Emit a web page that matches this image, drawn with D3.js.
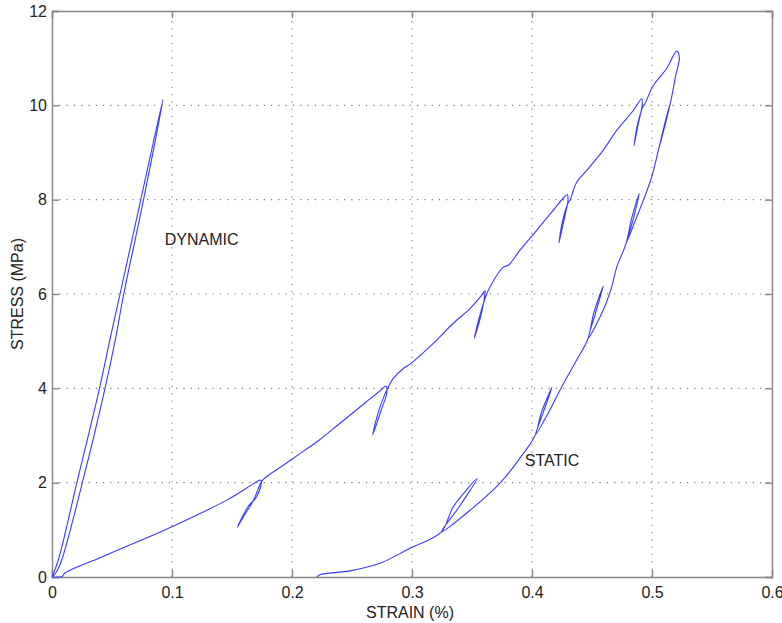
<!DOCTYPE html>
<html>
<head>
<meta charset="utf-8">
<script src="https://cdn.jsdelivr.net/npm/d3@7"></script>
<style>
  html, body { margin: 0; padding: 0; background: #fff; }
  svg { display: block; }
  text { font-family: "Liberation Sans", Arial, Helvetica, sans-serif; fill: #222; }
</style>
</head>
<body>
<svg id="chart" width="782" height="623"></svg>
<script>
// ---- data ----
const xTicks = [0, 0.1, 0.2, 0.3, 0.4, 0.5, 0.6];
const xTickLabels = ["0", "0.1", "0.2", "0.3", "0.4", "0.5", "0.6"];
const yTicks = [0, 2, 4, 6, 8, 10, 12];
const yTickLabels = ["0", "2", "4", "6", "8", "10", "12"];

const dynamicStrain = [0, 0.0035, 0.0081, 0.0253, 0.0442, 0.0527, 0.0598, 0.0763, 0.0925,
                       0.0740, 0.0567, 0.0482, 0.0394, 0.0206, 0.00525, 0];
const dynamicStress = [0, 0.10, 0.36, 2.0, 4.0, 5.02, 6.0, 8.0, 10.13,
                       8.0, 6.0, 5.02, 3.98, 1.985, 0.36, 0];

const staticStrain = [
  0, 0.0083, 0.011, 0.04, 0.0761, 0.1, 0.1456, 0.168, 0.1733,
  0.1745, 0.1705, 0.1636, 0.1544, 0.1600, 0.1678, 0.1740, 0.1765,
  0.1997, 0.2108, 0.222, 0.24, 0.2608, 0.274, 0.2783,
  0.2790, 0.2745, 0.2672, 0.2720, 0.2770, 0.2803,
  0.2844, 0.2928, 0.2992, 0.3164, 0.3344, 0.3483, 0.3580, 0.3608,
  0.3605, 0.3570, 0.3519, 0.3560, 0.3615, 0.3636,
  0.3761, 0.3803, 0.39, 0.4039, 0.4178, 0.4260, 0.4294,
  0.4300, 0.4265, 0.4225, 0.4255, 0.4305, 0.4317,
  0.4372, 0.4456, 0.4594, 0.4706, 0.4844, 0.4914,
  0.4918, 0.4885, 0.4850, 0.4880, 0.4930, 0.4942,
  0.5011, 0.5122, 0.5206, 0.5228,
  0.5195, 0.5161, 0.5111, 0.5061,
  0.5110, 0.5158, 0.5100, 0.5058,
  0.4997, 0.4930, 0.4860, 0.4789,
  0.4845, 0.4894, 0.4830, 0.4785,
  0.4706, 0.4664, 0.4594, 0.4469,
  0.4530, 0.4594, 0.4515, 0.4465,
  0.4372, 0.4233, 0.4140, 0.4030,
  0.4095, 0.4167, 0.4080, 0.4025,
  0.39, 0.3733, 0.350, 0.3247,
  0.3394, 0.3544, 0.3344, 0.3243,
  0.2983, 0.2733, 0.2483, 0.2233, 0.2206
];
const staticStress = [
  0, 0.01, 0.09, 0.41, 0.80, 1.066, 1.63, 1.98, 2.055,
  2.03, 1.7, 1.5, 1.053, 1.3, 1.62, 2.0, 2.08,
  2.49, 2.69, 2.89, 3.26, 3.69, 3.96, 4.05,
  3.9, 3.55, 3.01, 3.5, 3.85, 4.03,
  4.21, 4.42, 4.53, 4.92, 5.38, 5.69, 5.97, 6.07,
  5.95, 5.5, 5.06, 5.5, 5.95, 6.08,
  6.57, 6.61, 6.93, 7.35, 7.78, 8.03, 8.11,
  8.0, 7.55, 7.08, 7.55, 7.95, 7.99,
  8.37, 8.62, 9.05, 9.47, 9.89, 10.14,
  10.0, 9.6, 9.14, 9.6, 10.0, 10.04,
  10.42, 10.78, 11.15, 11.02,
  10.6, 10.14, 9.6, 9.12,
  9.6, 10.1, 9.55, 9.1,
  8.48, 8.0, 7.55, 7.1,
  7.6, 8.13, 7.6, 7.08,
  6.57, 6.15, 5.66, 5.06,
  5.6, 6.17, 5.6, 5.04,
  4.6, 3.96, 3.5, 3.02,
  3.5, 4.02, 3.5, 3.0,
  2.52, 1.99, 1.45, 0.96,
  1.49, 2.09, 1.49, 0.95,
  0.61, 0.29, 0.13, 0.05, 0
];

const labelTexts = ["DYNAMIC", "STATIC"];
const labelStrain = [0.094, 0.394];
const labelStress = [7.16, 2.48];

// ---- layout ----
const svg = d3.select("#chart");
const padL = 52, padR = 772, padT = 11, padB = 577;
const x = d3.scaleLinear().domain([0, 0.6]).range([padL, padR]);
const y = d3.scaleLinear().domain([0, 12]).range([padB, padT]);

const axisColor = "#858585";
const gridColor = "#7a7a7a";
const fontSize = "16px";

// grid (dotted)
const grid = svg.append("g");
grid.selectAll(".vg").data(xTicks.slice(1, -1)).join("line")
  .attr("x1", d => x(d)).attr("x2", d => x(d))
  .attr("y1", padB).attr("y2", padT)
  .attr("stroke", gridColor).attr("stroke-width", 1.1)
  .attr("stroke-dasharray", "1.2,6.1");
grid.selectAll(".hg").data(yTicks.slice(1, -1)).join("line")
  .attr("x1", padL).attr("x2", padR)
  .attr("y1", d => y(d)).attr("y2", d => y(d))
  .attr("stroke", gridColor).attr("stroke-width", 1.1)
  .attr("stroke-dasharray", "1.2,6.1");

// axes with inward ticks (MATLAB style)
const tickLen = 7;
const xAxisB = d3.axisBottom(x).tickValues(xTicks).tickSize(-tickLen).tickPadding(10)
  .tickFormat((d, i) => xTickLabels[i]);
const xAxisT = d3.axisTop(x).tickValues(xTicks).tickSize(-tickLen).tickFormat("");
const yAxisL = d3.axisLeft(y).tickValues(yTicks).tickSize(-tickLen).tickPadding(5)
  .tickFormat((d, i) => yTickLabels[i]);
const yAxisR = d3.axisRight(y).tickValues(yTicks).tickSize(-tickLen).tickFormat("");

function styleAxis(g) {
  g.select(".domain").attr("stroke", axisColor).attr("stroke-width", 1.4);
  g.selectAll(".tick line").attr("stroke", axisColor).attr("stroke-width", 1.4);
  g.selectAll(".tick text").attr("fill", "#222").style("font-size", fontSize)
    .style("font-family", '"Liberation Sans", Arial, sans-serif');
}
svg.append("g").attr("transform", `translate(0,${padB})`).call(xAxisB).call(styleAxis);
svg.append("g").attr("transform", `translate(0,${padT})`).call(xAxisT).call(styleAxis);
svg.append("g").attr("transform", `translate(${padL},0)`).call(yAxisL).call(styleAxis);
svg.append("g").attr("transform", `translate(${padR},0)`).call(yAxisR).call(styleAxis);

// curves
const line = d3.line().x(d => x(d[0])).y(d => y(d[1])).curve(d3.curveCatmullRom.alpha(0.5));
const dynPts = dynamicStrain.map((v, i) => [v, dynamicStress[i]]);
const staPts = staticStrain.map((v, i) => [v, staticStress[i]]);
const curveColor = "#3a3aff";
svg.append("path").attr("d", line(dynPts)).attr("fill", "none")
  .attr("stroke", curveColor).attr("stroke-width", 1.1).attr("stroke-linejoin", "round");
svg.append("path").attr("d", line(staPts)).attr("fill", "none")
  .attr("stroke", curveColor).attr("stroke-width", 1.1).attr("stroke-linejoin", "round");

// annotations
svg.selectAll(".ann").data(labelTexts).join("text")
  .attr("x", (d, i) => x(labelStrain[i]))
  .attr("y", (d, i) => y(labelStress[i]))
  .attr("dy", "0.35em")
  .style("font-size", fontSize)
  .text(d => d);

// axis titles
svg.append("text").attr("x", 410).attr("y", 618)
  .attr("text-anchor", "middle").style("font-size", fontSize).text("STRAIN (%)");
svg.append("text").attr("transform", `translate(23,${(padT + padB) / 2}) rotate(-90)`)
  .attr("text-anchor", "middle").style("font-size", fontSize).text("STRESS (MPa)");
</script>
</body>
</html>
